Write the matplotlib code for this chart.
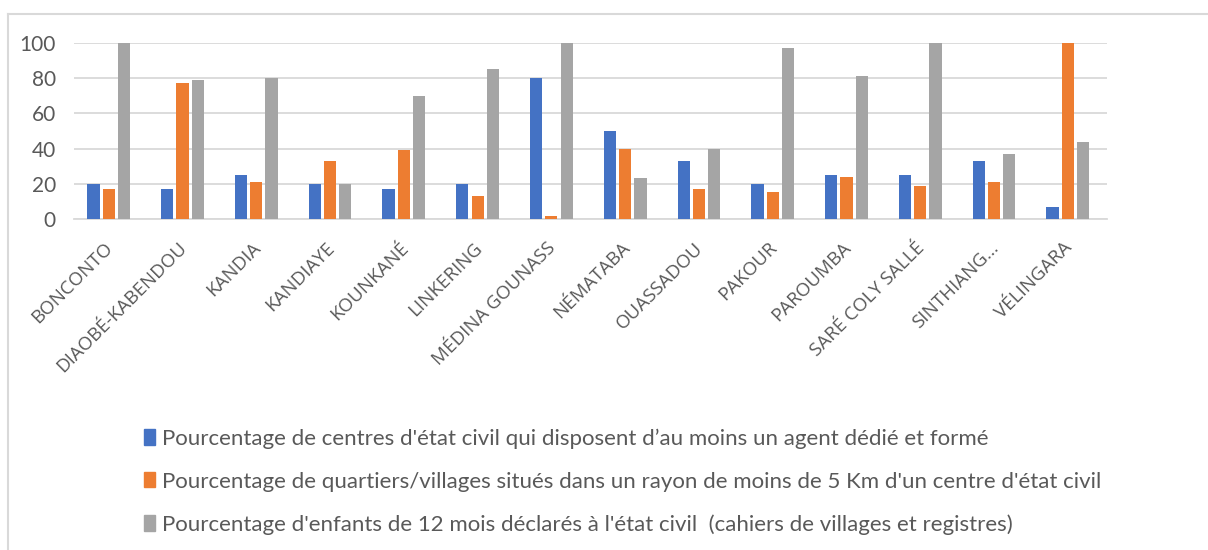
import matplotlib.pyplot as plt
import matplotlib.transforms as mtransforms
import numpy as np
from matplotlib.lines import Line2D

# communes (axis categories)
communes = ["BONCONTO", "DIAOBÉ-KABENDOU", "KANDIA", "KANDIAYE", "KOUNKANÉ",
            "LINKERING", "MÉDINA GOUNASS", "NÉMATABA", "OUASSADOU", "PAKOUR",
            "PAROUMBA", "SARÉ COLY SALLÉ", "SINTHIANG...", "VÉLINGARA"]

agent_forme = [20, 17, 25, 20, 17, 20, 80, 50, 33, 20, 25, 25, 33, 7]
rayon_5km = [17, 77, 21, 33, 39, 13, 2, 40, 17, 15.5, 24, 19, 21, 100]
enfants_declares = [100, 79, 80, 20, 70, 85, 100, 23.5, 40, 97, 81, 100, 37, 43.5]

labels = [
    "Pourcentage de centres d'état civil qui disposent d’au moins un agent dédié et formé",
    "Pourcentage de quartiers/villages situés dans un rayon de moins de 5 Km d'un centre d'état civil",
    "Pourcentage d'enfants de 12 mois déclarés à l'état civil  (cahiers de villages et registres)",
]
colors = ["#4472C4", "#ED7D31", "#A5A5A5"]

plt.rcParams['font.family'] = ['Lato', 'DejaVu Sans']

fig = plt.figure(figsize=(12.08, 5.5), dpi=100)
ax = fig.add_axes([0.0613, 0.6013, 0.855, 0.3211])

x = np.arange(len(communes))
step = 0.207
width = 0.165
for i, (vals, lab, col) in enumerate(zip([agent_forme, rayon_5km, enfants_declares], labels, colors)):
    ax.bar(x + (i - 1) * step - 0.03, vals, width, color=col, label=lab, zorder=3)

ax.set_xlim(-0.5, len(communes) - 0.5)
ax.set_ylim(0, 100)
ax.set_yticks([0, 20, 40, 60, 80, 100])
ax.yaxis.grid(True, color="#D9D9D9", linewidth=1.3, zorder=0)
ax.set_axisbelow(True)
for s in ["top", "right", "left"]:
    ax.spines[s].set_visible(False)
ax.spines["bottom"].set_color("#D9D9D9")
ax.spines["bottom"].set_linewidth(1.3)
ax.tick_params(axis="both", length=0, colors="#595959", labelsize=15)
ax.tick_params(axis="y", pad=13)
ax.set_xticks(x)
ax.set_xticklabels(communes, rotation=45, ha="right", rotation_mode="anchor",
                   fontsize=13.5, color="#595959", family=["Open Sans", "DejaVu Sans"])
ax.tick_params(axis="x", pad=14)
# nudge the slanted labels a little to the left, as in the original
shift = mtransforms.ScaledTranslation(-0.07, 0, fig.dpi_scale_trans)
for lbl in ax.get_xticklabels():
    lbl.set_transform(lbl.get_transform() + shift)

handles = [plt.Rectangle((0, 0), 1, 1, color=c) for c in colors]
fig.legend(handles, labels, loc="upper left", bbox_to_anchor=(0.112, 0.237),
           frameon=False, fontsize=16, labelcolor="#595959",
           handlelength=0.48, handleheight=0.68, handletextpad=0.3,
           labelspacing=1.02, borderaxespad=0)

# chart frame (only left and top edges visible in the crop)
fig.add_artist(Line2D([0.0066, 0.0066], [0, 0.975], transform=fig.transFigure,
                      color="#D9D9D9", linewidth=1.5))
fig.add_artist(Line2D([0.0066, 1], [0.975, 0.975], transform=fig.transFigure,
                      color="#D9D9D9", linewidth=1.5))

fig.savefig("out.png", dpi=100)
